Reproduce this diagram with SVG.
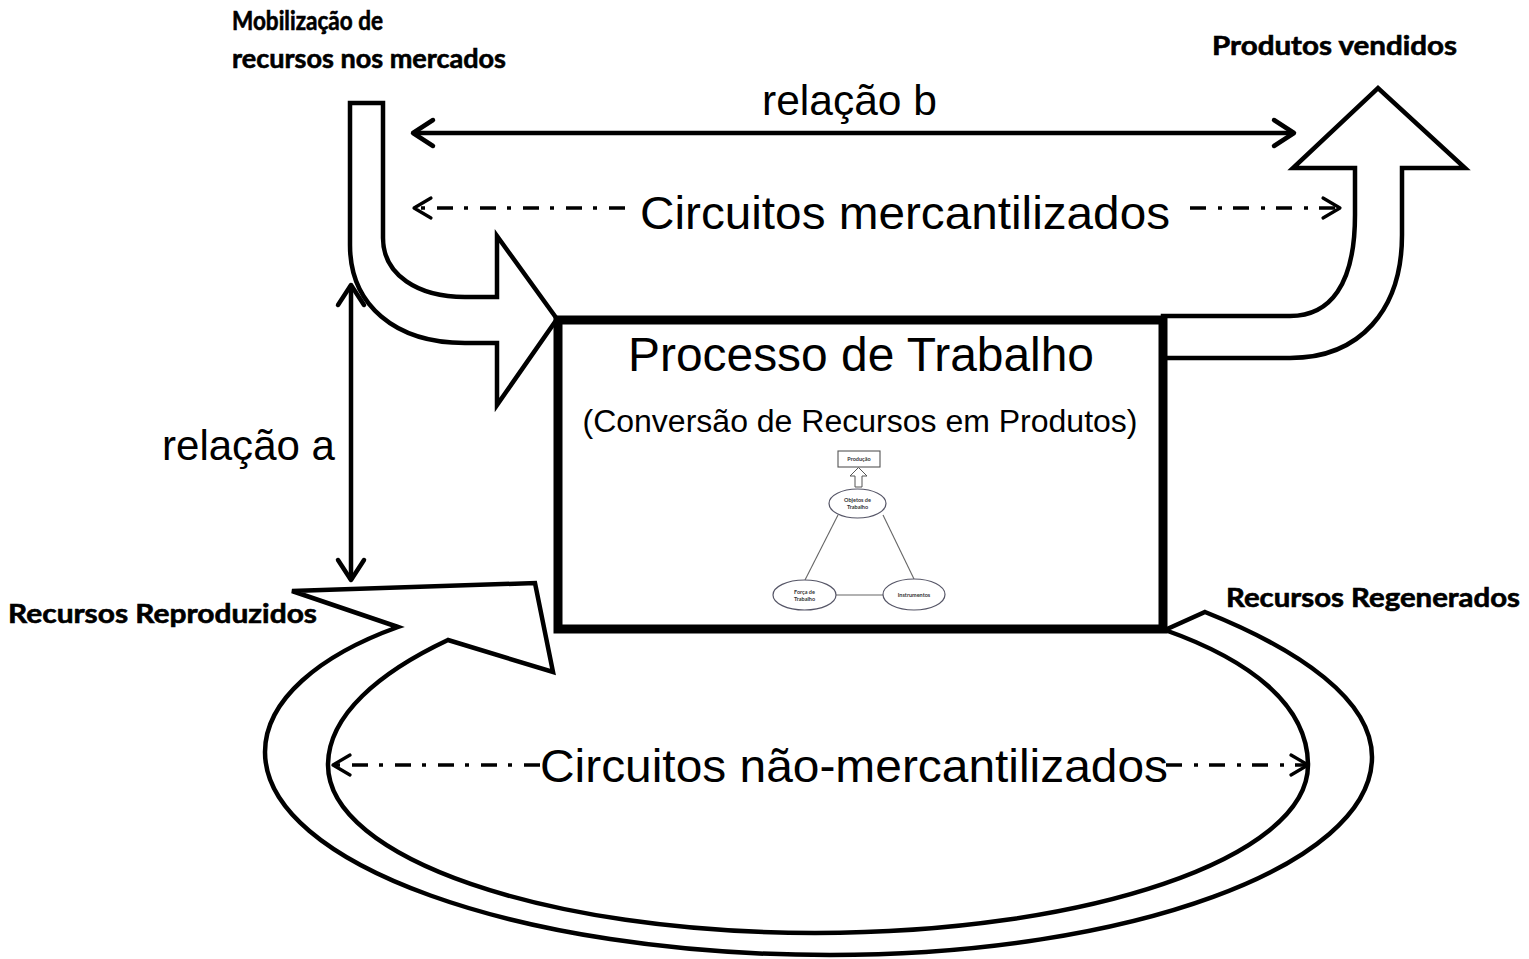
<svg xmlns="http://www.w3.org/2000/svg" width="1529" height="959" viewBox="0 0 1529 959">
<style>
.band{fill:#fff;stroke:#000;stroke-width:4.5;stroke-linejoin:miter}
.big{font-family:"Liberation Sans",Arial,sans-serif;fill:#000}
.lbl{font-family:Lato,"Open Sans",sans-serif;font-weight:bold;font-size:26px;fill:#000;stroke:#000;stroke-width:0.6}
.solid{stroke:#000;stroke-width:4.5;fill:none}
.dd{stroke:#000;stroke-width:3.5;fill:none;stroke-dasharray:16 12 4 11}
.mini{stroke:#666;stroke-width:1.1;fill:none}
.miniE{stroke:#556;stroke-width:1.2;fill:#fff}
.tiny{font-family:Lato,"Open Sans",sans-serif;font-weight:bold;font-size:5.5px;fill:#333;text-anchor:middle}
</style>
<defs>
<marker id="ah" viewBox="-30 -20 34 40" refX="0" refY="0" markerWidth="34" markerHeight="40" markerUnits="userSpaceOnUse" orient="auto-start-reverse" overflow="visible">
<path d="M-20,-13 L0,0 L-20,13" fill="none" stroke="#000" stroke-width="4.5" stroke-linecap="round" stroke-linejoin="round"/>
</marker>
<marker id="ahd" viewBox="-30 -20 34 40" refX="0" refY="0" markerWidth="34" markerHeight="40" markerUnits="userSpaceOnUse" orient="auto-start-reverse" overflow="visible">
<path d="M-17,-10 L0,0 L-17,10" fill="none" stroke="#000" stroke-width="3.2" stroke-linecap="round" stroke-linejoin="round"/>
</marker>
</defs>

<g id="arrow-mobilizacao">
<path class="band" d="M350,103 L383,103 L383,238 C383,275 418,297 465,297 L497,297 L497,236 L557,319 L497,405 L497,343 L465,343 C395,343 350,305 350,245 Z"/>
</g>
<g id="arrow-produtos">
<path class="band" d="M1163,316 L1290,316 C1330,316 1355,285 1355,215 L1355,168 L1293,168 L1378,88 L1465,168 L1402,168 L1402,235 C1402,310 1360,358 1290,358 L1163,358 Z"/>
</g>
<g id="loop-nao-mercantil">
<path class="band" d="M398,627 L292,591 L535,583 L553,672 L448,640 C380,672 328,715 328,765 C328,858 546,933 815,933 C1087,933 1308,858 1308,765 C1308,705 1250,660 1165,630 L1205,612 C1300,650 1372,700 1372,757 C1372,866 1129,955 830,955 C518,955 265,864 265,752 C265,700 320,655 398,627 Z"/>
</g>

<g id="processo-trabalho">
<rect x="558" y="320" width="605" height="309" fill="#fff" stroke="#000" stroke-width="9"/>
<text class="big" x="861" y="371" font-size="48" text-anchor="middle" textLength="466" lengthAdjust="spacingAndGlyphs">Processo de Trabalho</text>
<text class="big" x="860" y="432" font-size="31" text-anchor="middle" textLength="555" lengthAdjust="spacingAndGlyphs">(Conversão de Recursos em Produtos)</text>
</g>

<g id="mini-diagrama">
<rect x="838" y="451" width="42" height="16" fill="#fff" stroke="#555" stroke-width="1.1"/>
<text class="tiny" x="859" y="461">Produção</text>
<polygon points="855,487 862,487 862,476 867,476 858.5,467.5 850,476 855,476" fill="#fff" stroke="#555" stroke-width="1"/>
<line class="mini" x1="838" y1="515" x2="805" y2="580"/>
<line class="mini" x1="883" y1="515" x2="914" y2="579"/>
<line class="mini" x1="836" y1="595" x2="883" y2="595"/>
<ellipse class="miniE" cx="857.5" cy="503.5" rx="28.5" ry="14.5"/>
<text class="tiny" x="857.5" y="502">Objetos de</text>
<text class="tiny" x="857.5" y="509">Trabalho</text>
<ellipse class="miniE" cx="804.5" cy="595" rx="31.5" ry="15"/>
<text class="tiny" x="804.5" y="593.5">Força de</text>
<text class="tiny" x="804.5" y="600.5">Trabalho</text>
<ellipse class="miniE" cx="914" cy="594.5" rx="31" ry="15.5"/>
<text class="tiny" x="914" y="597">Instrumentos</text>
</g>

<g id="connectors">
<line class="solid" x1="413" y1="133" x2="1294" y2="133" marker-start="url(#ah)" marker-end="url(#ah)"/>
<line class="solid" x1="351" y1="285" x2="351" y2="580" marker-start="url(#ah)" marker-end="url(#ah)"/>
<line class="dd" x1="625" y1="208" x2="414" y2="208" marker-end="url(#ahd)"/>
<line class="dd" x1="1190" y1="208" x2="1340" y2="208" marker-end="url(#ahd)"/>
<line class="dd" x1="540" y1="765" x2="333" y2="765" marker-end="url(#ahd)"/>
<line class="dd" x1="1166" y1="765" x2="1308" y2="765" marker-end="url(#ahd)"/>
</g>

<g id="labels">
<text class="big" x="849.5" y="115" font-size="42" text-anchor="middle" textLength="175" lengthAdjust="spacingAndGlyphs">relação b</text>
<text class="big" x="248.5" y="460" font-size="42" text-anchor="middle" textLength="173" lengthAdjust="spacingAndGlyphs">relação a</text>
<text class="big" x="905" y="229" font-size="47" text-anchor="middle" textLength="530" lengthAdjust="spacingAndGlyphs">Circuitos mercantilizados</text>
<text class="big" x="854" y="782" font-size="47" text-anchor="middle" textLength="628" lengthAdjust="spacingAndGlyphs">Circuitos não-mercantilizados</text>
<text class="lbl" x="232" y="30" textLength="151" lengthAdjust="spacingAndGlyphs">Mobilização de</text>
<text class="lbl" x="232" y="68" textLength="274" lengthAdjust="spacingAndGlyphs">recursos nos mercados</text>
<text class="lbl" x="1212" y="55" textLength="245" lengthAdjust="spacingAndGlyphs">Produtos vendidos</text>
<text class="lbl" x="8" y="623" textLength="309" lengthAdjust="spacingAndGlyphs">Recursos Reproduzidos</text>
<text class="lbl" x="1226" y="607" textLength="294" lengthAdjust="spacingAndGlyphs">Recursos Regenerados</text>
</g>
</svg>
